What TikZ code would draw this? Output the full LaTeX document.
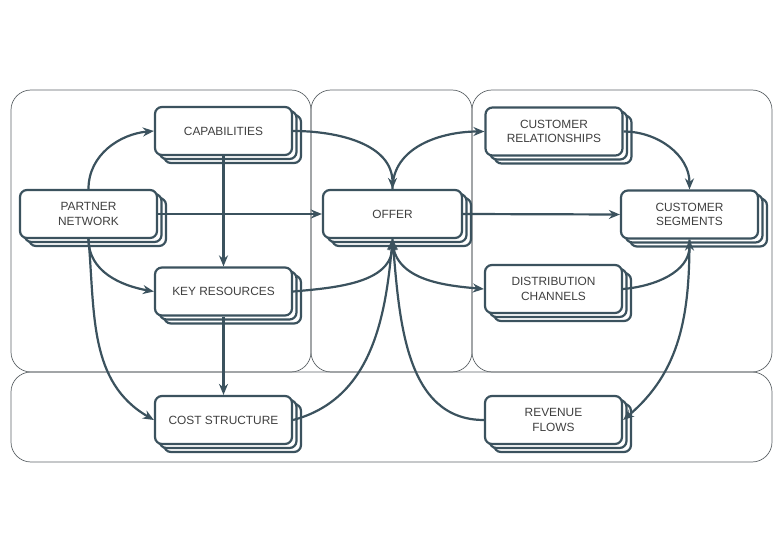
\documentclass[tikz,border=0pt]{standalone}
\usepackage{fontspec}
\setmainfont{Liberation Sans}
\usetikzlibrary{shadows,arrows.meta}
\definecolor{ink}{HTML}{3B525E}
\definecolor{panel}{HTML}{5E6468}
\definecolor{txt}{HTML}{404040}
\begin{document}
\begin{tikzpicture}[x=1pt,y=-1pt,
  box/.style={draw=ink, line width=2.2pt, fill=white, rounded corners=7pt,
    minimum width=137pt, minimum height=48pt, inner sep=2pt, align=center,
    text=txt, font=\fontsize{11.9}{14.5}\selectfont,
    copy shadow={shadow xshift=9pt, shadow yshift=-8pt, draw=ink, fill=white, line width=2.2pt},
    copy shadow={shadow xshift=4.5pt, shadow yshift=-4pt, draw=ink, fill=white, line width=2.2pt}},
  pane/.style={draw=panel, line width=0.7pt, rounded corners=20pt},
  link/.style={draw=ink, line width=2.2pt, -{Stealth[length=11pt,width=9pt]}}]
\useasboundingbox (0,0) rectangle (780,540);
% panels
\draw[pane] (11,90) rectangle (311,372);
\draw[pane] (311,90) rectangle (472,372);
\draw[pane] (472,90) rectangle (772,372);
\draw[pane] (11,372) rectangle (772,462);
% nodes
\node[box] (cap) at (223.5,131) {CAPABILITIES};
\node[box] (pn)  at (88.5,214) {PARTNER\\NETWORK};
\node[box] (kr)  at (223.5,291.5) {KEY RESOURCES};
\node[box] (cst) at (223.5,420) {COST STRUCTURE};
\node[box, minimum width=139pt] (off) at (392.5,214) {OFFER};
\node[box] (cr)  at (554,131.5) {CUSTOMER\\RELATIONSHIPS};
\node[box] (seg) at (689.5,214.5) {CUSTOMER\\SEGMENTS};
\node[box] (dc)  at (553.5,289) {DISTRIBUTION\\CHANNELS};
\node[box] (rf)  at (553.5,420) {REVENUE\\FLOWS};
% connectors
\draw[link] (pn.north) to[out=90,in=185] (cap.west);
\draw[link] (pn.east) -- (off.west);
\draw[link] (cap.south) -- (kr.north);
\draw[link] (pn.south) to[out=270,in=170] (kr.west);
\draw[link] (pn.south) to[out=275,in=150] (cst.west);
\draw[link] (kr.south) -- (cst.north);
\draw[link] (cap.east) to[out=0,in=90] (off.north);
\draw[link] (kr.east) to[out=5,in=270] (off.south);
\draw[link] (cst.east) to[out=15,in=265] (off.south);
\draw[link] (rf.west) to[out=180,in=275] (off.south);
\draw[link] (off.north) to[out=90,in=180] (cr.west);
\draw[link] (off.east) -- (seg.west);
\draw[link] (off.south) to[out=270,in=175] (dc.west);
\draw[link] (cr.east) to[out=0,in=90] (seg.north);
\draw[link] (dc.east) to[out=5,in=270] (seg.south);
\draw[link] (seg.south) to[out=270,in=40] (rf.east);
\end{tikzpicture}
\end{document}
